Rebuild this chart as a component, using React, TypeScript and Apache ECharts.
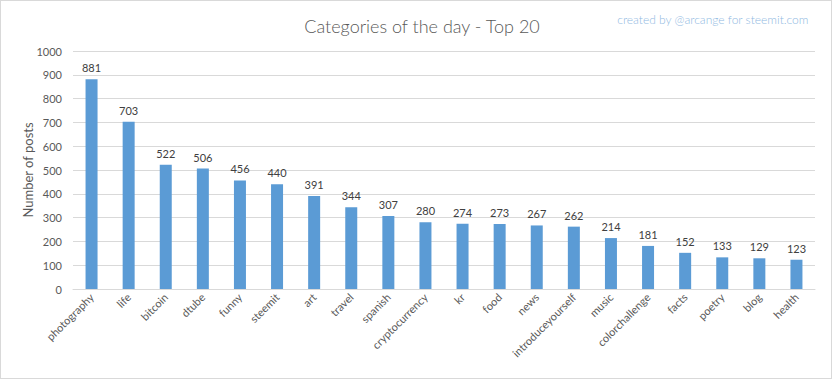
import React, { useEffect, useRef } from "react";
import * as echarts from "echarts";

const categories = ["photography", "life", "bitcoin", "dtube", "funny", "steemit", "art", "travel", "spanish", "cryptocurrency", "kr", "food", "news", "introduceyourself", "music", "colorchallenge", "facts", "poetry", "blog", "health"];
const posts = [881, 703, 522, 506, 456, 440, 391, 344, 307, 280, 274, 273, 267, 262, 214, 181, 152, 133, 129, 123];
const titleText = "Categories of the day - Top 20";
const watermark = "created by @arcange for steemit.com";
const yAxisName = "Number of posts";

const FONT = "Lato";

export default function App() {
  const ref = useRef<HTMLDivElement>(null);
  useEffect(() => {
    const chart = echarts.init(ref.current!, null, { renderer: "svg" });
    chart.setOption({
      animation: false,
      backgroundColor: "#ffffff",
      textStyle: { fontFamily: FONT },
      title: [
        {
          text: titleText,
          left: 416,
          top: 11,
          textAlign: "center",
          textStyle: { fontSize: 18, fontWeight: 300, color: "#595959", fontFamily: FONT },
        },
        {
          text: watermark,
          right: 17,
          top: 7,
          textStyle: { fontSize: 12, fontWeight: 300, color: "#8fb9e2", fontFamily: FONT },
        },
      ],
      grid: { left: 72, right: 16, top: 50, bottom: 89, containLabel: false },
      xAxis: {
        type: "category",
        data: categories,
        axisLine: { lineStyle: { color: "#d9d9d9" } },
        axisTick: { show: false },
        axisLabel: { rotate: 45, color: "#595959", fontSize: 11, margin: 6, interval: 0, fontFamily: FONT },
      },
      yAxis: {
        type: "value",
        min: 0,
        max: 1000,
        interval: 100,
        name: yAxisName,
        nameLocation: "middle",
        nameGap: 39,
        nameMoveOverlap: false,
        nameTextStyle: { color: "#595959", fontSize: 13, fontFamily: FONT },
        axisLine: { show: false },
        axisTick: { show: false },
        axisLabel: { color: "#595959", fontSize: 11, margin: 11, fontFamily: FONT, formatter: (v: number) => String(v) },
        splitLine: { lineStyle: { color: "#d9d9d9" } },
      },
      series: [
        {
          type: "bar",
          data: posts,
          barWidth: 12,
          itemStyle: { color: "#5b9bd5" },
          label: { show: true, position: "top", color: "#404040", fontSize: 11, distance: 6, fontFamily: FONT },
        },
      ],
    });
    return () => chart.dispose();
  }, []);
  return (
    <div
      ref={ref}
      style={{ position: "absolute", left: 0, top: 0, width: 832, height: 379, boxSizing: "border-box", border: "1px solid #d9d9d9" }}
    />
  );
}
